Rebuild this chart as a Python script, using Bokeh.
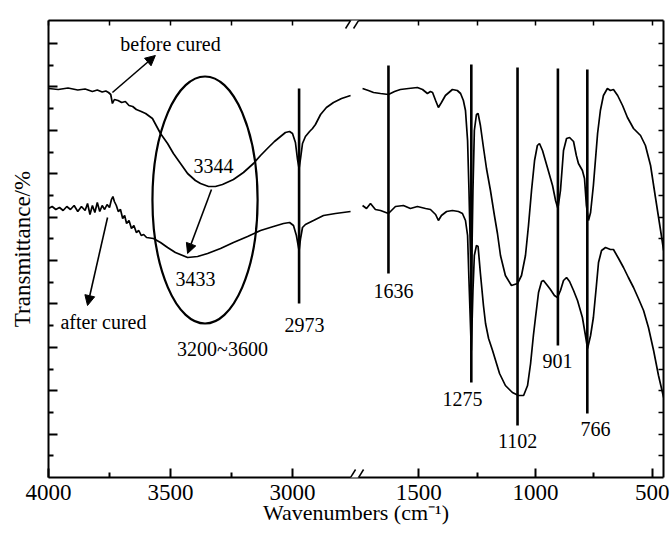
import numpy as np
from bokeh.plotting import figure
from bokeh.models import (Range1d, LinearAxis, FixedTicker, Arrow, NormalHead,
                          ColumnDataSource, CustomJSTickFormatter)
from bokeh.embed import file_html
from bokeh.resources import INLINE
from bokeh.core.properties import value

# ---------------- data ----------------
tick_wn = [4000, 3500, 3000, 1500, 1000, 500]
tick_labels = ["4000", "3500", "3000", "1500", "1000", "500"]
minor_wn = [3750, 3250, 1250, 750]
x_title = "Wavenumbers (cm⁻¹)"
y_title = "Transmittance/%"

before_left_wn = [4000, 3960, 3920, 3880, 3850, 3820, 3800, 3780, 3765, 3754,
                  3745, 3738, 3730, 3715, 3700, 3685, 3670, 3655, 3640, 3620,
                  3602, 3574, 3541, 3512, 3488, 3459, 3430, 3398, 3377, 3344,
                  3316, 3287, 3242, 3201, 3160, 3131, 3103, 3074, 3049, 3029,
                  3012, 3000, 2988, 2980, 2973, 2967, 2959, 2947, 2930, 2918,
                  2906, 2885, 2861, 2832, 2799, 2762]
before_left_t = [389, 388, 389.5, 387.5, 388.5, 386, 387.5, 385.5, 386.5, 385,
                 383, 374, 378, 377, 375, 376, 372, 371, 368, 366,
                 364, 359, 344, 334, 324, 314, 304, 297, 294, 291,
                 291, 293, 298, 305, 314, 322, 329, 336, 341, 345,
                 346, 344, 335, 319, 309, 319, 334, 341, 346, 349,
                 353, 363, 370, 375, 379, 382]

after_left_wn = [4000, 3985, 3970, 3955, 3940, 3925, 3910, 3895, 3880, 3865,
                 3850, 3840, 3830, 3820, 3810, 3800, 3790, 3780, 3770, 3760,
                 3750, 3742, 3736, 3730, 3722, 3714, 3705, 3696, 3688, 3680,
                 3670, 3660, 3650, 3640, 3630, 3620, 3610, 3598, 3570, 3541,
                 3512, 3480, 3430, 3389, 3348, 3295, 3242, 3184, 3131, 3078,
                 3037, 3012, 2996, 2984, 2973, 2967, 2959, 2947, 2914, 2873,
                 2824, 2762]
after_left_t = [269, 271, 268, 270, 267, 271, 268, 272, 266, 271,
                267, 274, 263, 272, 265, 275, 266, 272, 268, 273,
                270, 278, 281, 276, 272, 266, 268, 259, 262, 254,
                257, 249, 252, 245, 247, 242, 243, 240, 239, 235,
                230, 225, 220, 221, 224, 229, 235, 241, 247, 251,
                254, 255, 252, 242, 227, 239, 250, 253, 257, 262,
                264, 266]

before_right_wn = [1741, 1716, 1694, 1664, 1630, 1604, 1579, 1544, 1506, 1484,
                   1463, 1450, 1441, 1428, 1416, 1403, 1386, 1356, 1335, 1321,
                   1309, 1300, 1291, 1285, 1275, 1268, 1262, 1253, 1246, 1236,
                   1223, 1210, 1193, 1176, 1163, 1150, 1129, 1103, 1077, 1060,
                   1043, 1030, 1017, 1004, 992, 983, 970, 949, 927, 914,
                   904, 893, 880, 867, 854, 837, 825, 816, 799, 790,
                   782, 773, 764, 752, 734, 722, 709, 692, 679, 666,
                   648, 627, 606, 580, 550, 529, 507, 486, 464, 451]
before_right_t = [389, 387, 385, 384, 383, 386, 388, 389, 390, 388,
                  384, 386, 385, 377, 370, 375, 382, 388, 387, 384,
                  377, 367, 337, 287, 187, 287, 347, 363, 364, 352,
                  330, 309, 287, 262, 244, 222, 202, 192, 194, 202,
                  222, 252, 287, 317, 332, 334, 327, 310, 292, 277,
                  269, 287, 327, 339, 340, 336, 322, 314, 307, 299,
                  272, 257, 265, 292, 344, 367, 382, 389, 387, 388,
                  382, 372, 360, 349, 342, 332, 312, 280, 247, 227]

after_right_wn = [1741, 1724, 1707, 1686, 1664, 1630, 1600, 1566, 1536, 1506,
                  1471, 1450, 1428, 1416, 1403, 1381, 1356, 1330, 1313, 1300,
                  1291, 1285, 1275, 1268, 1262, 1253, 1246, 1236, 1223, 1214,
                  1201, 1184, 1154, 1129, 1099, 1073, 1051, 1034, 1021, 1009,
                  1000, 987, 974, 966, 949, 936, 919, 906, 893, 880,
                  867, 854, 837, 820, 799, 786, 777, 764, 752, 739,
                  730, 717, 700, 679, 666, 644, 623, 602, 580, 559,
                  537, 516, 494, 473, 451]
after_right_t = [272, 269, 274, 268, 267, 264, 271, 272, 269, 271,
                 269, 268, 263, 257, 262, 266, 267, 266, 264, 257,
                 242, 197, 127, 187, 222, 232, 231, 204, 172, 154,
                 139, 127, 104, 92, 85, 82, 82, 92, 114, 142,
                 160, 185, 196, 197, 192, 188, 182, 180, 187, 197,
                 200, 196, 187, 177, 160, 142, 129, 142, 160, 192,
                 215, 227, 230, 228, 228, 219, 210, 200, 190, 179,
                 167, 150, 127, 102, 80]

# assignment lines
peak_labels = ["2973", "1636", "1275", "1102", "901", "766"]
peak_line_wn = [2973, 1630, 1275, 1077, 904, 778]
peak_line_top = [389, 412, 413, 410, 409, 408]
peak_line_bot = [174, 204, 95, 52, 132, 64]

# text annotations
note_text = ["before cured", "after cured", "3344", "3433", "3200~3600",
             "2973", "1636", "1275", "1102", "901", "766"]
note_wn = [3500, 3775, 3324, 3398, 3287, 2951, 1608, 1313, 1077, 906, 743]
note_t = [434, 156, 312, 199, 129, 153, 187, 79, 37, 117, 49]

# arrows (tail wn, tail t, head wn, head t)
arrow_tail_wn = [3738, 3758, 3332]
arrow_tail_t = [385, 260, 288]
arrow_head_wn = [3562, 3840, 3430]
arrow_head_t = [422, 172, 224]

# ellipse around the O-H band
ell_left_wn, ell_right_wn = 3574, 3143
ell_bottom_t, ell_top_t = 154, 401

# axis break
break_left_wn, break_right_wn = 2762, 1758

# ---------------- broken x axis mapping ----------------
def brk(w):
    w = np.asarray(w, dtype=float)
    return np.where(w > 2200, (4000.0 - w) * 0.244, 370.3 + (1500.0 - w) * 0.2334)

FONT = "Liberation Serif"
AXIS_FONT = "'Liberation Serif', serif"
Y_TOP = 457
Y_STEP = 21.7

p = figure(width=670, height=533, x_range=Range1d(0, 615), y_range=Range1d(0, Y_TOP),
           output_backend="svg", toolbar_location=None,
           min_border_left=48, min_border_right=7, min_border_top=20, min_border_bottom=56)
p.outline_line_color = None
p.grid.visible = False
p.background_fill_color = "white"

blank = CustomJSTickFormatter(code="return ''")

# bottom axis
xb = p.xaxis[0]
tick_pos = [round(float(v), 3) for v in brk(tick_wn)]
minor_pos = [round(float(v), 3) for v in brk(minor_wn)]
xb.ticker = FixedTicker(ticks=tick_pos, minor_ticks=minor_pos)
xb.major_label_overrides = {v: lab for v, lab in zip(tick_pos, tick_labels)}
xb.major_tick_in = 9
xb.major_tick_out = 0
xb.minor_tick_in = 5
xb.minor_tick_out = 0
xb.axis_line_width = 2
xb.major_tick_line_width = 2
xb.minor_tick_line_width = 2
xb.major_label_text_font = AXIS_FONT
xb.major_label_text_font_size = "23px"
xb.major_label_text_color = "black"
xb.major_label_standoff = 7
xb.axis_label = x_title
xb.axis_label_text_font = AXIS_FONT
xb.axis_label_text_font_size = "22px"
xb.axis_label_text_font_style = "normal"
xb.axis_label_text_color = "black"
xb.axis_label_standoff = -3

# left axis
yl = p.yaxis[0]
y_major = [Y_STEP * k for k in range(2, 21, 2)]
y_minor = [Y_STEP * k for k in range(1, 21, 2)]
yl.ticker = FixedTicker(ticks=y_major, minor_ticks=y_minor)
yl.formatter = blank
yl.major_label_text_font_size = "0px"
yl.major_label_standoff = 0
yl.major_tick_in = 9
yl.major_tick_out = 0
yl.minor_tick_in = 5
yl.minor_tick_out = 0
yl.axis_line_width = 2
yl.major_tick_line_width = 2
yl.minor_tick_line_width = 2
yl.axis_label = y_title
yl.axis_label_text_font = AXIS_FONT
yl.axis_label_text_font_size = "23px"
yl.axis_label_text_font_style = "normal"
yl.axis_label_text_color = "black"
yl.axis_label_standoff = 14

# right axis (mirror ticks)
yr = LinearAxis(ticker=FixedTicker(ticks=[Y_STEP * k for k in range(1, 21)]),
                formatter=blank, major_label_text_font_size="0px", major_label_standoff=0,
                major_tick_in=5, major_tick_out=0, minor_tick_in=0, minor_tick_out=0,
                axis_line_width=2, major_tick_line_width=1.5)
p.add_layout(yr, "right")

# top axis (mirror ticks)
xt = LinearAxis(ticker=FixedTicker(ticks=tick_pos + minor_pos),
                formatter=blank, major_label_text_font_size="0px", major_label_standoff=0,
                major_tick_in=5, major_tick_out=0, minor_tick_in=0, minor_tick_out=0,
                axis_line_width=2, major_tick_line_width=1.5)
p.add_layout(xt, "above")

# spectra
for wn, t in [(before_left_wn, before_left_t), (before_right_wn, before_right_t),
              (after_left_wn, after_left_t), (after_right_wn, after_right_t)]:
    p.line(brk(wn), t, line_color="black", line_width=1.7)

# assignment lines
p.segment(x0=brk(peak_line_wn), y0=peak_line_top, x1=brk(peak_line_wn), y1=peak_line_bot,
          line_color="black", line_width=2.6)

# ellipse
ex0, ex1 = brk([ell_left_wn, ell_right_wn])
p.ellipse(x=[(ex0 + ex1) / 2], y=[(ell_bottom_t + ell_top_t) / 2],
          width=[ex1 - ex0], height=[ell_top_t - ell_bottom_t],
          fill_color=None, line_color="black", line_width=2.2)

# text notes
src = ColumnDataSource(dict(x=brk(note_wn), y=note_t, text=note_text))
p.text(x="x", y="y", text="text", source=src, text_font=value(FONT),
       text_font_size=value("20px"), text_align="center", text_baseline="middle",
       text_color="black")

# arrows
for tw, tt, hw, ht in zip(arrow_tail_wn, arrow_tail_t, arrow_head_wn, arrow_head_t):
    p.add_layout(Arrow(x_start=float(brk(tw)), y_start=tt, x_end=float(brk(hw)), y_end=ht,
                       line_color="black", line_width=1.6,
                       end=NormalHead(size=10, fill_color="black", line_color="black",
                                      line_width=1)))

# axis break marks
bx0, bx1 = [float(v) for v in brk([break_left_wn, break_right_wn])]
for yy in (0, Y_TOP):
    p.add_layout(Arrow(x_start=bx0, y_start=yy, x_end=bx1, y_end=yy, end=None,
                       line_color="white", line_width=6))
    for xc in (bx0, bx1):
        p.add_layout(Arrow(x_start=xc - 5, y_start=yy - 8, x_end=xc + 5, y_end=yy + 8,
                           end=None, line_color="black", line_width=1.5))

open("out.html", "w").write(file_html(p, INLINE))
